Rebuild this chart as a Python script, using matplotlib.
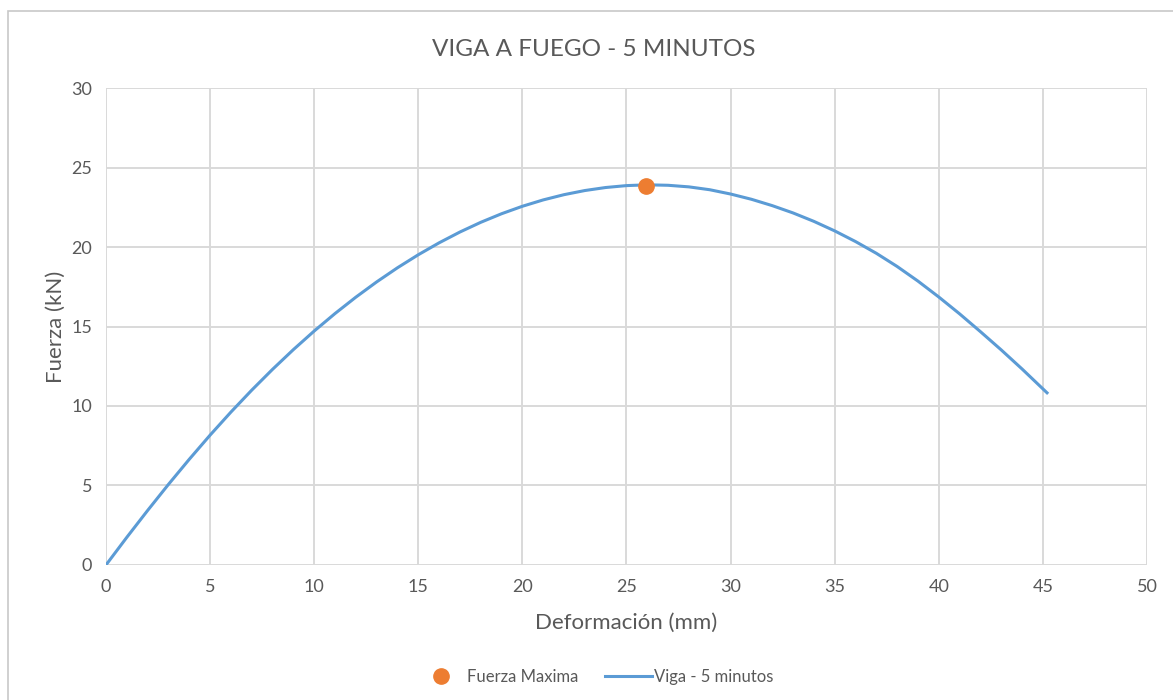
import matplotlib.pyplot as plt
from matplotlib.patches import Rectangle

# datos (mm, kN)
deformacion = [0, 1, 2, 3, 4, 5, 6, 7, 8, 9, 10, 11, 12, 13, 14, 15, 16, 17,
               18, 19, 20, 21, 22, 23, 24, 25, 26, 27, 28, 29, 30, 31, 32, 33,
               34, 35, 36, 37, 38, 39, 40, 41, 42, 43, 44, 45, 45.2]
fuerza = [0, 1.74, 3.43, 5.07, 6.65, 8.17, 9.62, 11.0, 12.31, 13.55, 14.72,
          15.82, 16.85, 17.81, 18.70, 19.52, 20.27, 20.95, 21.56, 22.10,
          22.57, 22.97, 23.30, 23.56, 23.75, 23.87, 23.92, 23.89, 23.79,
          23.61, 23.34, 23.01, 22.61, 22.15, 21.62, 21.02, 20.35, 19.61,
          18.78, 17.86, 16.86, 15.80, 14.68, 13.53, 12.33, 11.08, 10.83]
max_x = [25.96]
max_y = [23.85]

gris = '#595959'
plt.rcParams['font.family'] = ['Lato', 'DejaVu Sans']

fig = plt.figure(figsize=(11.73, 7.0), dpi=100)
ax = fig.add_axes([0.0904, 0.193, 0.8874, 0.681])

# marco exterior del grafico
fig.patches.append(Rectangle((8 / 1173, -0.1), 1.2, 1 - 11 / 700 + 0.1,
                             transform=fig.transFigure, fill=False,
                             edgecolor='#c8c8c8', linewidth=1.2))

ax.plot(deformacion, fuerza, color='#5b9bd5', linewidth=2.2,
        label='Viga - 5 minutos', zorder=3, solid_joinstyle='round')
ax.plot(max_x, max_y, 'o', color='#ed7d31', markersize=11,
        label='Fuerza Maxima', zorder=4)

ax.set_xlim(0, 50)
ax.set_ylim(0, 30)
ax.set_xticks(range(0, 51, 5))
ax.set_yticks(range(0, 31, 5))
ax.grid(True, color='#d9d9d9', linewidth=1.4)
ax.set_axisbelow(True)
for s in ax.spines.values():
    s.set_visible(False)
ax.tick_params(length=0, labelsize=13, labelcolor=gris, pad=10)

ax.set_xlabel('Deformación (mm)', fontsize=16, color=gris, labelpad=13)
ax.set_ylabel('Fuerza (kN)', fontsize=16, color=gris, labelpad=4)
fig.text(0.506, 0.929, 'VIGA A FUEGO - 5 MINUTOS', fontsize=17.5,
         color=gris, ha='center', va='center')

h, l = ax.get_legend_handles_labels()
fig.legend(h[::-1], l[::-1], loc='center', bbox_to_anchor=(0.508, 0.033),
           ncol=2, frameon=False, fontsize=12, labelcolor=gris,
           handlelength=2.8, handletextpad=0.15, columnspacing=1.6)

plt.savefig('out.png', dpi=100)
